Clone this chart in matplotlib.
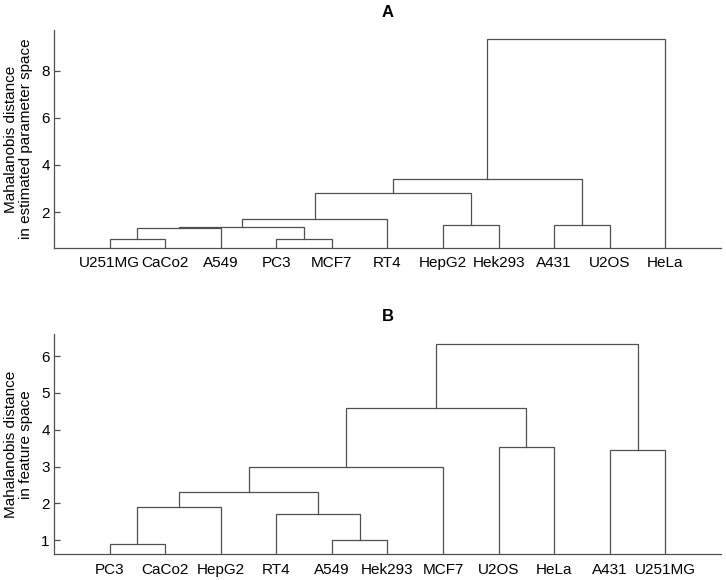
import matplotlib
matplotlib.use('Agg')
import matplotlib.pyplot as plt

# leaf order as drawn, and merges (left id, right id, height); new ids start at len(leaves)
leaves_a = ['U251MG', 'CaCo2', 'A549', 'PC3', 'MCF7', 'RT4', 'HepG2', 'Hek293', 'A431', 'U2OS', 'HeLa']
merges_a = [(0, 1, 0.86), (3, 4, 0.86), (11, 2, 1.32), (13, 12, 1.37), (6, 7, 1.45),
            (8, 9, 1.45), (14, 5, 1.72), (17, 15, 2.82), (18, 16, 3.42), (19, 10, 9.37)]
yticks_a = [2, 4, 6, 8]

leaves_b = ['PC3', 'CaCo2', 'HepG2', 'RT4', 'A549', 'Hek293', 'MCF7', 'U2OS', 'HeLa', 'A431', 'U251MG']
merges_b = [(0, 1, 0.90), (4, 5, 1.00), (3, 12, 1.71), (11, 2, 1.90), (14, 13, 2.31),
            (15, 6, 3.00), (9, 10, 3.45), (7, 8, 3.54), (16, 18, 4.60), (19, 17, 6.32)]
yticks_b = [1, 2, 3, 4, 5, 6]

plt.rcParams['font.family'] = ['Liberation Sans', 'DejaVu Sans']
LINE = '#505050'


def draw_dendrogram(ax, leaves, merges):
    n = len(leaves)
    pos = {i: (i + 1, 0.0) for i in range(n)}
    for k, (a, b, h) in enumerate(merges):
        xa, ya = pos[a]
        xb, yb = pos[b]
        ax.plot([xa, xa, xb, xb], [ya, h, h, yb], color=LINE, lw=0.9, solid_joinstyle='miter')
        pos[n + k] = ((xa + xb) / 2, h)


def style(ax, leaves, yticks, ylim, title, ylabel):
    ax.set_xlim(0, len(leaves) + 1)
    ax.set_ylim(*ylim)
    ax.set_xticks(range(1, len(leaves) + 1))
    ax.set_xticklabels(leaves, fontsize=11)
    ax.set_yticks(yticks)
    ax.tick_params(axis='x', length=0, pad=6)
    ax.tick_params(axis='y', direction='in', length=4, width=0.9, color=LINE, labelsize=11, pad=3)
    for s in ['top', 'right']:
        ax.spines[s].set_visible(False)
    for s in ['left', 'bottom']:
        ax.spines[s].set_color(LINE)
        ax.spines[s].set_linewidth(0.9)
    ax.set_title(title, fontsize=12, fontweight='bold', pad=9.5)
    ax.set_ylabel(ylabel, fontsize=11, labelpad=6, linespacing=1.05)


fig = plt.figure(figsize=(7.26, 5.8), dpi=100)
ax1 = fig.add_axes([0.0744, 0.5724, 0.9186, 0.3759])
ax2 = fig.add_axes([0.0744, 0.0443, 0.9186, 0.3793])

draw_dendrogram(ax1, leaves_a, merges_a)
style(ax1, leaves_a, yticks_a, (0.47, 9.74), 'A', 'Mahalanobis distance\nin estimated parameter space')

draw_dendrogram(ax2, leaves_b, merges_b)
style(ax2, leaves_b, yticks_b, (0.62, 6.59), 'B', 'Mahalanobis distance\nin feature space')

plt.savefig('out.png', dpi=100)
